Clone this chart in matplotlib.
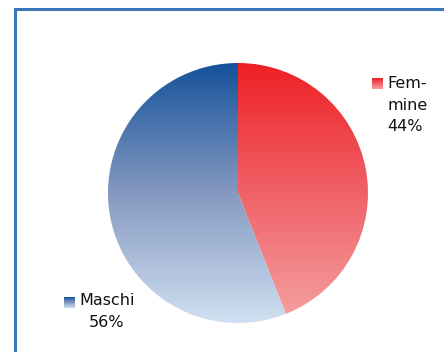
import matplotlib.pyplot as plt
import numpy as np
from matplotlib.colors import LinearSegmentedColormap

# Ripartizione per sesso
labels = ["Fem-\nmine", "Maschi"]
shares = [44, 56]
# gradient stops, top -> bottom
grad_colors = [
    ["#ed2024", "#f06268", "#f5a1a1"],
    ["#15529b", "#8599c1", "#cfe0f1"],
]

W, H = 444, 352
fig = plt.figure(figsize=(W / 100, H / 100), dpi=100)
ax = fig.add_axes([0, 0, 1, 1])

cx, cy, r = 238, H - 193, 130
wedges, _ = ax.pie(shares, center=(cx, cy), radius=r, startangle=90,
                   counterclock=False, frame=True,
                   wedgeprops=dict(facecolor="none", edgecolor="none"))
ax.set_xlim(0, W)
ax.set_ylim(0, H)
ax.set_aspect("equal")
ax.axis("off")

# frame of the chart area (runs off the right and bottom edges)
ax.plot([15, 15, W + 5], [-5, H - 9, H - 9], color="#3a76b8", lw=2.2,
        solid_joinstyle="miter")

ramp = np.linspace(0, 1, 256).reshape(-1, 1)


def gradient(cols, extent, clip=None):
    cmap = LinearSegmentedColormap.from_list("g", cols[::-1])
    im = ax.imshow(ramp, cmap=cmap, extent=extent, origin="lower",
                   aspect="auto", interpolation="bilinear", zorder=2)
    if clip is not None:
        im.set_clip_path(clip)
    return im


for w, cols in zip(wedges, grad_colors):
    gradient(cols, (cx - r, cx + r, cy - r, cy + r), clip=w)

# labels with small gradient keys
fs = 11.5
label_pos = [(372, H - 78), (64, H - 297)]
for (lx, ly), lab, val, cols in zip(label_pos, labels, shares, grad_colors):
    gradient(cols, (lx, lx + 11, ly - 11, ly))
    if "\n" in lab:
        ax.text(lx + 15, ly + 2, f"{lab}\n{val}%", ha="left", va="top",
                fontsize=fs, family="DejaVu Sans", linespacing=1.55,
                color="#111111")
    else:
        ax.text(lx + 15, ly + 4, lab, ha="left", va="top", fontsize=fs,
                family="DejaVu Sans", color="#111111")
        ax.text(lx + 42, ly - 18, f"{val}%", ha="center", va="top",
                fontsize=fs, family="DejaVu Sans", color="#111111")

ax.set_xlim(0, W)
ax.set_ylim(0, H)
fig.savefig("out.png", dpi=100, facecolor="white")
